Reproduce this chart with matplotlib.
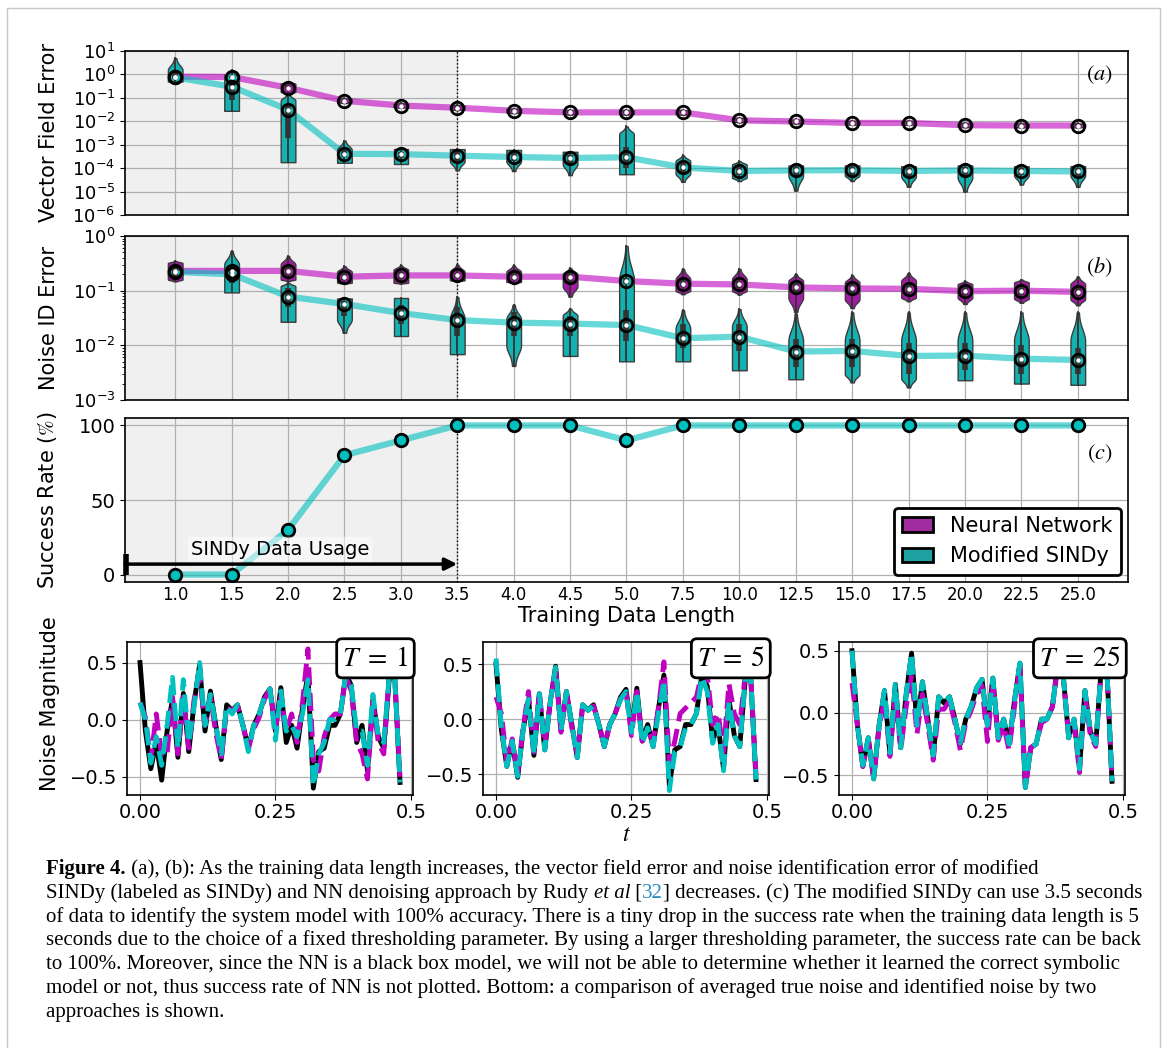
import numpy as np
import matplotlib
matplotlib.use("Agg")
import matplotlib.pyplot as plt
from matplotlib.patches import Patch, Rectangle
from matplotlib.ticker import LogLocator, NullFormatter

plt.rcParams["mathtext.fontset"] = "stix"

# ---------------- data ----------------
x_labels = ["1.0", "1.5", "2.0", "2.5", "3.0", "3.5", "4.0", "4.5", "5.0",
            "7.5", "10.0", "12.5", "15.0", "17.5", "20.0", "22.5", "25.0"]

# (a) vector field error, violin summaries: lo, foot, q1, med, q3, shoulder, hi
nn_vf_lo = [0.6, 0.6, 0.15, 0.06, 0.038, 0.03, 0.022, 0.019, 0.019, 0.019, 0.009, 0.008, 0.007, 0.007, 0.0055, 0.0054, 0.0054]
nn_vf_foot = [0.65, 0.65, 0.18, 0.065, 0.041, 0.033, 0.024, 0.021, 0.021, 0.021, 0.0098, 0.0087, 0.0076, 0.0076, 0.006, 0.0059, 0.0059]
nn_vf_q1 = [0.72, 0.7, 0.21, 0.068, 0.043, 0.034, 0.025, 0.022, 0.022, 0.022, 0.010, 0.0089, 0.0077, 0.0077, 0.0062, 0.006, 0.006]
nn_vf_med = [0.80, 0.78, 0.27, 0.075, 0.047, 0.038, 0.028, 0.024, 0.024, 0.024, 0.011, 0.0098, 0.0085, 0.0085, 0.0068, 0.0066, 0.0066]
nn_vf_q3 = [0.88, 0.88, 0.35, 0.083, 0.052, 0.043, 0.031, 0.027, 0.027, 0.027, 0.0122, 0.0108, 0.0094, 0.0094, 0.0075, 0.0073, 0.0073]
nn_vf_shoulder = [0.92, 0.95, 0.40, 0.088, 0.055, 0.046, 0.033, 0.029, 0.029, 0.029, 0.013, 0.0114, 0.0099, 0.0099, 0.008, 0.0077, 0.0077]
nn_vf_hi = [1.0, 1.05, 0.47, 0.095, 0.06, 0.05, 0.035, 0.03, 0.03, 0.03, 0.014, 0.012, 0.0105, 0.0105, 0.0085, 0.0082, 0.0082]

sindy_vf_lo = [0.5, 0.028, 1.8e-4, 1.7e-4, 1.5e-4, 8e-5, 7.5e-5, 5e-5, 5.5e-5, 2.6e-5, 2.8e-5, 1.1e-5, 2.8e-5, 1.6e-5, 1.0e-5, 2.0e-5, 1.6e-5]
sindy_vf_foot = [0.5, 0.028, 1.8e-4, 1.7e-4, 1.5e-4, 2e-4, 2e-4, 1.5e-4, 5.5e-5, 6e-5, 4e-5, 5e-5, 5e-5, 4.5e-5, 4e-5, 5e-5, 5e-5]
sindy_vf_q1 = [0.62, 0.08, 2e-3, 3.0e-4, 2.8e-4, 2.0e-4, 2.0e-4, 1.5e-4, 1.0e-4, 6e-5, 5e-5, 4e-5, 5e-5, 4e-5, 4e-5, 5e-5, 4e-5]
sindy_vf_med = [0.75, 0.30, 0.031, 4.1e-4, 3.95e-4, 3.4e-4, 3.0e-4, 2.7e-4, 2.9e-4, 1.07e-4, 7.6e-5, 8.0e-5, 8.2e-5, 7.6e-5, 8.0e-5, 7.6e-5, 7.2e-5]
sindy_vf_q3 = [1.3, 0.6, 0.05, 6e-4, 5e-4, 5e-4, 4.5e-4, 3.8e-4, 8e-4, 1.6e-4, 1.1e-4, 1.1e-4, 1.1e-4, 1.0e-4, 1.1e-4, 1.0e-4, 1.0e-4]
sindy_vf_shoulder = [1.5, 0.7, 0.077, 6e-4, 6.5e-4, 6.5e-4, 6e-4, 5e-4, 2.8e-3, 2e-4, 1.4e-4, 1.3e-4, 1.3e-4, 1.2e-4, 1.3e-4, 1.2e-4, 1.2e-4]
sindy_vf_hi = [5.0, 1.5, 0.15, 1.5e-3, 6.5e-4, 6.5e-4, 6e-4, 5e-4, 6e-3, 3.5e-4, 2e-4, 1.3e-4, 1.3e-4, 1.2e-4, 1.4e-4, 1.2e-4, 1.3e-4]

# (b) noise identification error
nn_id_lo = [0.148, 0.18, 0.15, 0.135, 0.135, 0.15, 0.14, 0.078, 0.12, 0.086, 0.085, 0.041, 0.048, 0.064, 0.057, 0.06, 0.054]
nn_id_foot = [0.16, 0.19, 0.16, 0.14, 0.14, 0.155, 0.145, 0.12, 0.125, 0.10, 0.10, 0.075, 0.07, 0.075, 0.075, 0.072, 0.07]
nn_id_q1 = [0.19, 0.20, 0.19, 0.16, 0.165, 0.17, 0.16, 0.14, 0.13, 0.115, 0.11, 0.085, 0.09, 0.09, 0.085, 0.085, 0.08]
nn_id_med = [0.23, 0.23, 0.23, 0.18, 0.19, 0.19, 0.18, 0.18, 0.15, 0.134, 0.13, 0.115, 0.11, 0.108, 0.098, 0.10, 0.095]
nn_id_q3 = [0.27, 0.26, 0.28, 0.21, 0.22, 0.21, 0.21, 0.21, 0.17, 0.155, 0.15, 0.14, 0.13, 0.13, 0.115, 0.12, 0.115]
nn_id_shoulder = [0.32, 0.27, 0.30, 0.22, 0.24, 0.22, 0.22, 0.20, 0.18, 0.16, 0.16, 0.15, 0.14, 0.15, 0.13, 0.14, 0.13]
nn_id_hi = [0.35, 0.30, 0.43, 0.28, 0.29, 0.30, 0.29, 0.26, 0.20, 0.25, 0.25, 0.20, 0.19, 0.21, 0.15, 0.16, 0.18]

sindy_id_lo = [0.19, 0.093, 0.027, 0.017, 0.015, 0.0069, 0.0042, 0.0064, 0.0051, 0.0051, 0.0035, 0.0024, 0.0021, 0.0017, 0.0023, 0.002, 0.0019]
sindy_id_foot = [0.195, 0.093, 0.027, 0.03, 0.015, 0.0069, 0.01, 0.0064, 0.0051, 0.0051, 0.0035, 0.0024, 0.003, 0.0025, 0.0023, 0.002, 0.0019]
sindy_id_q1 = [0.205, 0.14, 0.05, 0.035, 0.025, 0.015, 0.015, 0.015, 0.012, 0.009, 0.008, 0.004, 0.004, 0.003, 0.0035, 0.003, 0.003]
sindy_id_med = [0.22, 0.20, 0.078, 0.057, 0.039, 0.029, 0.026, 0.025, 0.0235, 0.0135, 0.0144, 0.0077, 0.0079, 0.0064, 0.0065, 0.0057, 0.0054]
sindy_id_q3 = [0.235, 0.26, 0.11, 0.065, 0.055, 0.05, 0.04, 0.035, 0.045, 0.025, 0.025, 0.013, 0.013, 0.011, 0.011, 0.01, 0.009]
sindy_id_shoulder = [0.24, 0.30, 0.12, 0.072, 0.072, 0.03, 0.03, 0.035, 0.15, 0.02, 0.022, 0.012, 0.012, 0.012, 0.012, 0.012, 0.012]
sindy_id_hi = [0.25, 0.53, 0.14, 0.072, 0.072, 0.076, 0.055, 0.047, 0.66, 0.044, 0.046, 0.038, 0.04, 0.04, 0.04, 0.04, 0.04]

# (c) success rate of modified SINDy (%)
sindy_success = [0, 0, 30, 80, 90, 100, 100, 100, 90, 100, 100, 100, 100, 100, 100, 100, 100]

# bottom: averaged noise, t = 0 ... 0.48
t = np.arange(49) * 0.01
true_noise = [0.50, -0.10, -0.43, -0.20, -0.53, -0.10, 0.18, -0.33, 0.23, -0.28,
              0.15, 0.48, -0.10, 0.25, -0.05, -0.35, 0.13, 0.08, 0.13, -0.05,
              -0.25, -0.05, 0.05, 0.20, 0.27, -0.10, 0.28, -0.20, -0.05, -0.25,
              0.10, 0.40, -0.60, -0.28, -0.25, -0.05, -0.05, 0.05, 0.40, 0.30,
              -0.20, -0.05, -0.45, 0.18, -0.15, -0.25, 0.35, 0.40, -0.55]
nn_noise_T1 = [0.15, 0.02, -0.35, 0.05, -0.32, -0.30, 0.20, -0.30, 0.20, -0.25,
               0.18, 0.38, -0.05, 0.20, -0.12, -0.35, 0.10, 0.08, 0.12, -0.05,
               -0.25, -0.08, 0.02, 0.18, 0.27, -0.08, 0.20, -0.10, 0.05, -0.20,
               0.15, 0.62, -0.35, -0.45, -0.15, 0.00, 0.05, 0.05, 0.38, 0.25,
               -0.20, -0.30, -0.52, 0.15, -0.20, -0.30, 0.40, 0.40, -0.50]
sindy_noise_T1 = [0.15, 0.00, -0.38, -0.15, -0.40, -0.05, 0.37, -0.25, 0.35, -0.20,
                  0.12, 0.50, -0.05, 0.22, -0.05, -0.30, 0.12, 0.05, 0.13, -0.05,
                  -0.28, -0.05, 0.05, 0.20, 0.27, -0.18, 0.25, -0.10, -0.05, -0.15,
                  0.05, 0.35, -0.58, -0.30, -0.20, 0.00, 0.00, 0.05, 0.40, 0.30,
                  -0.10, -0.10, -0.40, 0.22, -0.15, -0.20, 0.38, 0.40, -0.55]
nn_noise_T5 = [0.20, 0.05, -0.40, -0.18, -0.50, -0.08, 0.25, -0.30, 0.25, -0.25,
               0.15, 0.45, -0.12, 0.25, -0.08, -0.32, 0.12, 0.08, 0.12, -0.05,
               -0.25, -0.05, 0.05, 0.18, 0.25, -0.15, 0.25, -0.20, -0.10, -0.20,
               0.10, 0.52, -0.40, -0.20, 0.05, 0.10, 0.15, 0.20, 0.42, 0.40,
               -0.05, 0.05, -0.30, 0.32, 0.05, -0.05, 0.40, 0.40, -0.50]
sindy_noise_T5 = [0.55, -0.08, -0.43, -0.20, -0.52, -0.10, 0.18, -0.32, 0.23, -0.28,
                  0.15, 0.47, -0.10, 0.25, -0.05, -0.35, 0.13, 0.08, 0.12, -0.05,
                  -0.25, -0.05, 0.05, 0.18, 0.25, -0.12, 0.25, -0.22, -0.08, -0.25,
                  0.05, 0.35, -0.65, -0.30, -0.25, -0.08, -0.05, 0.05, 0.38, 0.25,
                  -0.22, -0.05, -0.47, 0.15, -0.15, -0.25, 0.35, 0.40, -0.55]
nn_noise_T25 = [0.24, -0.10, -0.43, -0.22, -0.52, -0.12, 0.12, -0.35, 0.15, -0.30,
                0.05, 0.30, -0.17, 0.15, -0.10, -0.38, 0.03, 0.03, 0.10, -0.08,
                -0.30, -0.08, 0.02, 0.15, 0.22, -0.23, 0.25, -0.22, -0.10, -0.30,
                0.05, 0.38, -0.60, -0.28, -0.25, -0.08, -0.05, 0.05, 0.38, 0.28,
                -0.18, -0.08, -0.48, 0.15, -0.18, -0.27, 0.33, 0.40, -0.55]
sindy_noise_T25 = [0.50, -0.10, -0.42, -0.20, -0.53, -0.10, 0.18, -0.32, 0.23, -0.28,
                   0.15, 0.48, -0.10, 0.25, -0.05, -0.34, 0.13, 0.08, 0.13, -0.05,
                   -0.24, -0.05, 0.05, 0.20, 0.27, -0.10, 0.28, -0.20, -0.05, -0.25,
                   0.10, 0.40, -0.60, -0.28, -0.25, -0.05, -0.05, 0.05, 0.40, 0.30,
                   -0.20, -0.05, -0.45, 0.18, -0.15, -0.25, 0.35, 0.40, -0.55]
T_values = [1, 5, 25]

caption = [
    [("Figure 4.", "b"), (" (a), (b): As the training data length increases, the vector field error and noise identification error of modified", "n")],
    [("SINDy (labeled as SINDy) and NN denoising approach by Rudy ", "n"), ("et al", "i"), (" [", "n"), ("32", "link"),
     ("] decreases. (c) The modified SINDy can use 3.5 seconds", "n")],
    [("of data to identify the system model with 100% accuracy. There is a tiny drop in the success rate when the training data length is 5", "n")],
    [("seconds due to the choice of a fixed thresholding parameter. By using a larger thresholding parameter, the success rate can be back", "n")],
    [("to 100%. Moreover, since the NN is a black box model, we will not be able to determine whether it learned the correct symbolic", "n")],
    [("model or not, thus success rate of NN is not plotted. Bottom: a comparison of averaged true noise and identified noise by two", "n")],
    [("approaches is shown.", "n")],
]

# ---------------- style ----------------
W, H = 1167, 1048
NN_FILL, SINDY_FILL = "#a31aa3", "#14b1b1"
HW = 0.13  # violin half width


def box(l, t_, r, b):
    return [l / W, 1 - b / H, (r - l) / W, (b - t_) / H]


def violin(ax, x, lo, foot, q1, med, q3, sh, hi, fc):
    y = np.linspace(np.log10(lo), np.log10(hi), 90)
    lf, ls = np.log10(foot), np.log10(sh)
    dn = max(lf - np.log10(lo), 1e-6)
    up = max(np.log10(hi) - ls, 1e-6)
    w = np.ones_like(y)
    m = y < lf
    w[m] = 0.2 + 0.8 * np.exp(-((lf - y[m]) / (0.55 * dn)) ** 2)
    m = y > ls
    w[m] = 0.12 + 0.88 * np.exp(-((y[m] - ls) / (0.55 * up)) ** 2)
    ax.fill_betweenx(10 ** y, x - HW * w, x + HW * w, facecolor=fc,
                     edgecolor="#3c3c3c", lw=1, zorder=3)
    ax.plot([x, x], [lo, hi], color="#333333", lw=1.3, zorder=4)
    ax.plot([x, x], [q1, q3], color="#333333", lw=4, solid_capstyle="butt", zorder=4)


def series(ax, pos, stats, fc, lc):
    lo, foot, q1, med, q3, sh, hi = stats
    ax.plot(pos, med, color=lc, lw=4.5, alpha=0.6, zorder=2, solid_capstyle="round")
    for i in range(len(pos)):
        violin(ax, pos[i], lo[i], foot[i], q1[i], med[i], q3[i], sh[i], hi[i], fc)
    ax.plot(pos, med, "o", mfc="none", mec="k", ms=9, mew=2, zorder=5)
    ax.plot(pos, med, "o", color="white", ms=2.2, zorder=6)


fig = plt.figure(figsize=(W / 100, H / 100), dpi=100)

ax_a = fig.add_axes(box(125, 51, 1128, 215))
ax_b = fig.add_axes(box(125, 236, 1128, 400))
ax_c = fig.add_axes(box(125, 418, 1128, 582))
pos = np.arange(len(x_labels))

for ax in (ax_a, ax_b, ax_c):
    ax.set_xlim(-0.89, 16.89)
    ax.axvspan(-0.89, 5, color="#f0f0f0", zorder=0, lw=0)
    ax.axvline(5, color="k", ls=":", lw=1, zorder=1)
    ax.grid(True, color="#b0b0b0", lw=0.9, zorder=1)
    ax.set_axisbelow(True)
    ax.set_xticks(pos)
    ax.tick_params(axis="y", labelsize=13)
    for s in ax.spines.values():
        s.set_linewidth(1.2)

# (a)
ax_a.set_yscale("log")
series(ax_a, pos, [nn_vf_lo, nn_vf_foot, nn_vf_q1, nn_vf_med, nn_vf_q3, nn_vf_shoulder, nn_vf_hi], NN_FILL, "m")
series(ax_a, pos, [sindy_vf_lo, sindy_vf_foot, sindy_vf_q1, sindy_vf_med, sindy_vf_q3, sindy_vf_shoulder, sindy_vf_hi], SINDY_FILL, "c")
ax_a.set_ylim(1e-6, 10)
ax_a.yaxis.set_major_locator(LogLocator(base=10, numticks=20))
ax_a.set_xticklabels([])
ax_a.tick_params(axis="x", length=0, labelbottom=False)
ax_a.set_ylabel("Vector Field Error", fontsize=15)
ax_a.text(0.985, 0.855, "$(a)$", transform=ax_a.transAxes, ha="right", va="center", fontsize=16)

# (b)
ax_b.set_yscale("log")
series(ax_b, pos, [nn_id_lo, nn_id_foot, nn_id_q1, nn_id_med, nn_id_q3, nn_id_shoulder, nn_id_hi], NN_FILL, "m")
series(ax_b, pos, [sindy_id_lo, sindy_id_foot, sindy_id_q1, sindy_id_med, sindy_id_q3, sindy_id_shoulder, sindy_id_hi], SINDY_FILL, "c")
ax_b.set_ylim(1e-3, 1)
ax_b.yaxis.set_major_locator(LogLocator(base=10, numticks=10))
ax_b.set_xticklabels([])
ax_b.tick_params(axis="x", length=0, labelbottom=False)
ax_b.set_ylabel("Noise ID Error", fontsize=15)
ax_b.text(0.985, 0.81, "$(b)$", transform=ax_b.transAxes, ha="right", va="center", fontsize=16)

for ax in (ax_a, ax_b):
    ax.yaxis.set_minor_formatter(NullFormatter())
    ax.tick_params(axis="y", which="minor", labelleft=False)

# (c)
ax_c.plot(pos, sindy_success, color="c", lw=4.5, alpha=0.6, zorder=2)
ax_c.plot(pos, sindy_success, "o", mfc="c", mec="k", ms=9, mew=2, zorder=5)
ax_c.set_ylim(-5, 105)
ax_c.set_yticks([0, 50, 100])
ax_c.tick_params(axis="y", labelsize=14)
ax_c.set_xticklabels(x_labels, fontsize=12)
ax_c.tick_params(axis="x", length=0, pad=3)
ax_c.set_ylabel("Success Rate ($\\%$)", fontsize=15)
ax_c.set_xlabel("Training Data Length", fontsize=15, labelpad=1)
ax_c.text(0.985, 0.78, "$(c)$", transform=ax_c.transAxes, ha="right", va="center", fontsize=16)
ax_c.annotate("", xy=(5, 7), xytext=(-0.89, 7),
              arrowprops=dict(arrowstyle="-|>", lw=2.5, color="k", mutation_scale=18,
                              shrinkA=0, shrinkB=0), zorder=6)
ax_c.plot([-0.87, -0.87], [0, 14], color="k", lw=4, solid_capstyle="butt", clip_on=False, zorder=6)
ax_c.text(1.86, 17, "SINDy Data Usage", fontsize=14, ha="center", va="center", zorder=6,
          bbox=dict(boxstyle="round,pad=0.15", fc="white", ec="none", alpha=0.5))
leg = ax_c.legend(handles=[Patch(facecolor="#a02ca0", edgecolor="k", lw=2, label="Neural Network"),
                           Patch(facecolor="#1fa0a0", edgecolor="k", lw=2, label="Modified SINDy")],
                  loc="lower right", fontsize=15, handlelength=1.5, borderaxespad=0.35,
                  fancybox=True, framealpha=1)
leg.get_frame().set_edgecolor("k")
leg.get_frame().set_linewidth(2)

for a in (ax_a, ax_b, ax_c):
    a.yaxis.set_label_coords(-0.066, 0.5)

# bottom noise panels
bottom_boxes = [box(127, 642, 413, 795), box(483, 642, 769, 795), box(839, 642, 1125, 795)]
nn_sets = [nn_noise_T1, nn_noise_T5, nn_noise_T25]
sindy_sets = [sindy_noise_T1, sindy_noise_T5, sindy_noise_T25]
ylims = [(-0.66, 0.68), (-0.69, 0.70), (-0.66, 0.57)]
for k in range(3):
    ax = fig.add_axes(bottom_boxes[k])
    ax.plot(t, true_noise, color="k", lw=3.5, zorder=2)
    ax.plot(t, nn_sets[k], color="m", ls="--", lw=3.5, zorder=3)
    ax.plot(t, sindy_sets[k], color="c", ls="--", lw=3.5, zorder=4)
    ax.set_ylim(*ylims[k])
    ax.set_yticks([-0.5, 0.0, 0.5])
    ax.set_xticks([0, 0.25, 0.5])
    ax.set_xticklabels(["0.00", "0.25", "0.5"])
    ax.tick_params(labelsize=14)
    ax.tick_params(axis="x", pad=2)
    ax.grid(True, color="#b0b0b0", lw=0.9)
    for s in ax.spines.values():
        s.set_linewidth(1.2)
    ax.text(0.985, 0.985, "$T\\;=\\;%d$" % T_values[k], transform=ax.transAxes, ha="right", va="top",
            fontsize=20, zorder=10,
            bbox=dict(boxstyle="round,pad=0.2", fc="white", ec="k", lw=2))
    if k == 0:
        ax.set_ylabel("Noise Magnitude", fontsize=15)
        ax.yaxis.set_label_coords(-0.235, 0.6)
    if k == 1:
        ax.set_xlabel("$t$", fontsize=17, labelpad=0)

# caption
r = fig.canvas.get_renderer()
probe = fig.text(0, 0, caption[3][0][0], fontsize=14, family="Liberation Serif")
cap_size = 14 * 1093 / probe.get_window_extent(renderer=r).width
probe.remove()
styles = {"n": {}, "b": {"weight": "bold"}, "i": {"style": "italic"}, "link": {"color": "#2a8fc0"}}
for li, line in enumerate(caption):
    x = 46
    ybase = 874 + li * 23.8
    for txt, st in line:
        tt = fig.text(x / W, 1 - ybase / H, txt, fontsize=cap_size, family="Liberation Serif",
                      ha="left", va="baseline", color=styles[st].get("color", "k"),
                      weight=styles[st].get("weight", "normal"), style=styles[st].get("style", "normal"))
        x += tt.get_window_extent(renderer=r).width

fig.patches.append(Rectangle((7 / W, -0.01), (1160 - 7) / W, 1.01 - 8 / H, transform=fig.transFigure,
                             fill=False, ec="#c8c8c8", lw=1))

fig.savefig("out.png", dpi=100)
